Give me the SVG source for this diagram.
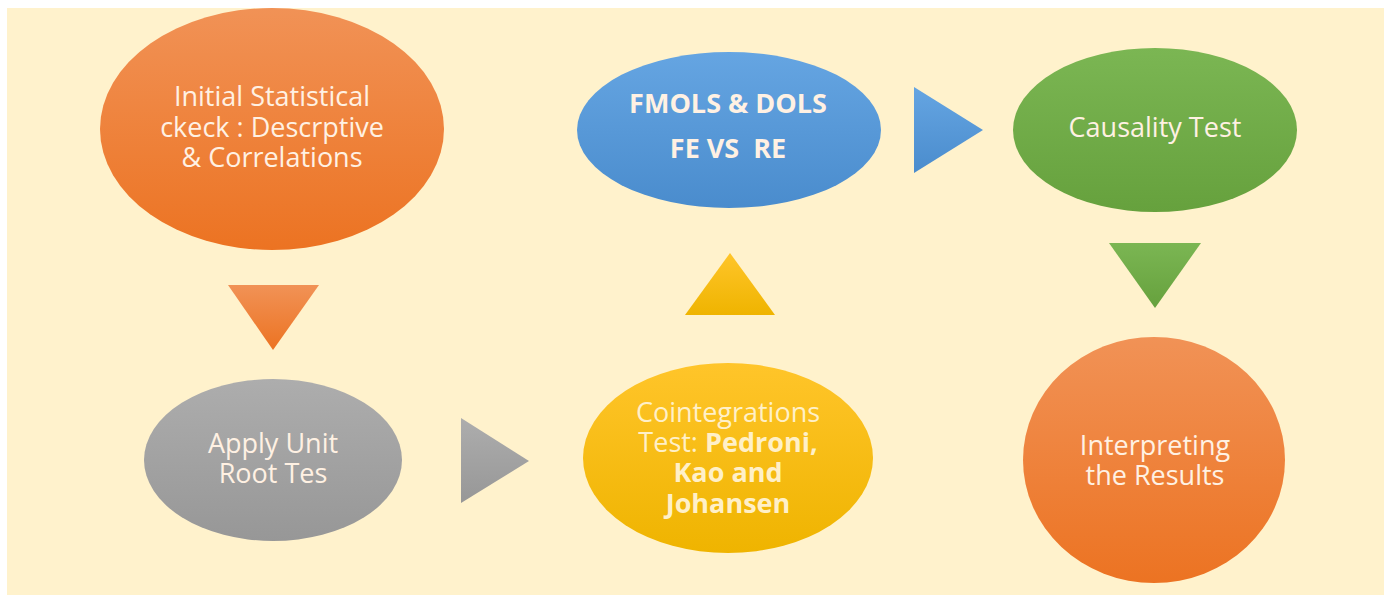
<svg xmlns="http://www.w3.org/2000/svg" width="1387" height="595" viewBox="0 0 1387 595">
<defs>
<linearGradient id="gOr" x1="0" y1="0" x2="0" y2="1"><stop offset="0" stop-color="#F19256"/><stop offset="1" stop-color="#EC7322"/></linearGradient>
<linearGradient id="gGr" x1="0" y1="0" x2="0" y2="1"><stop offset="0" stop-color="#ADADAD"/><stop offset="1" stop-color="#979797"/></linearGradient>
<linearGradient id="gYe" x1="0" y1="0" x2="0" y2="1"><stop offset="0" stop-color="#FFC52A"/><stop offset="1" stop-color="#EFB400"/></linearGradient>
<linearGradient id="gBl" x1="0" y1="0" x2="0" y2="1"><stop offset="0" stop-color="#65A5E2"/><stop offset="1" stop-color="#4A8CCD"/></linearGradient>
<linearGradient id="gGn" x1="0" y1="0" x2="0" y2="1"><stop offset="0" stop-color="#7BB653"/><stop offset="1" stop-color="#66A13D"/></linearGradient>
<style>
.t{font-family:"Open Sans","Liberation Sans",sans-serif;font-size:27px;fill:#FFF1E3;text-anchor:middle}
.b{font-weight:bold}
.ty{fill:#FFF0C8}
</style>
</defs>
<rect x="0" y="0" width="1387" height="595" fill="#FFFFFF"/>
<rect x="7" y="8" width="1377" height="587" fill="#FFF2CC"/>
<g id="connectors">
<polygon points="228,285 319,285 273,350" fill="url(#gOr)"/>
<polygon points="461,418 461,503 529,461" fill="url(#gGr)"/>
<polygon points="685,315 775,315 730,253" fill="url(#gYe)"/>
<polygon points="914,87 914,173 983,130" fill="url(#gBl)"/>
<polygon points="1109,243 1201,243 1155,308" fill="url(#gGn)"/>
</g>
<g id="n1">
<ellipse cx="272" cy="129" rx="172" ry="121" fill="url(#gOr)"/>
<text class="t" x="272" y="106">Initial Statistical</text>
<text class="t" x="272" y="137">ckeck : Descrptive</text>
<text class="t" x="272" y="167">&amp; Correlations</text>
</g>
<g id="n2">
<ellipse cx="273" cy="460" rx="129" ry="81" fill="url(#gGr)"/>
<text class="t" x="273" y="453">Apply Unit</text>
<text class="t" x="273" y="483">Root Tes</text>
</g>
<g id="n3">
<ellipse cx="728" cy="458" rx="145" ry="95" fill="url(#gYe)"/>
<text class="t ty" x="728" y="422">Cointegrations</text>
<text class="t ty" x="728" y="452">Test: <tspan class="b">Pedroni,</tspan></text>
<text class="t ty b" x="728" y="482">Kao and</text>
<text class="t ty b" x="728" y="513">Johansen</text>
</g>
<g id="n4">
<ellipse cx="729" cy="130" rx="152" ry="78" fill="url(#gBl)"/>
<text class="t b" x="728" y="113">FMOLS &amp; DOLS</text>
<text class="t b" x="728" y="158" xml:space="preserve">FE VS  RE</text>
</g>
<g id="n5">
<ellipse cx="1155" cy="130" rx="142" ry="82" fill="url(#gGn)"/>
<text class="t" x="1155" y="137">Causality Test</text>
</g>
<g id="n6">
<ellipse cx="1154" cy="460" rx="131" ry="123" fill="url(#gOr)"/>
<text class="t" x="1155" y="455">Interpreting</text>
<text class="t" x="1155" y="485">the Results</text>
</g>
</svg>
